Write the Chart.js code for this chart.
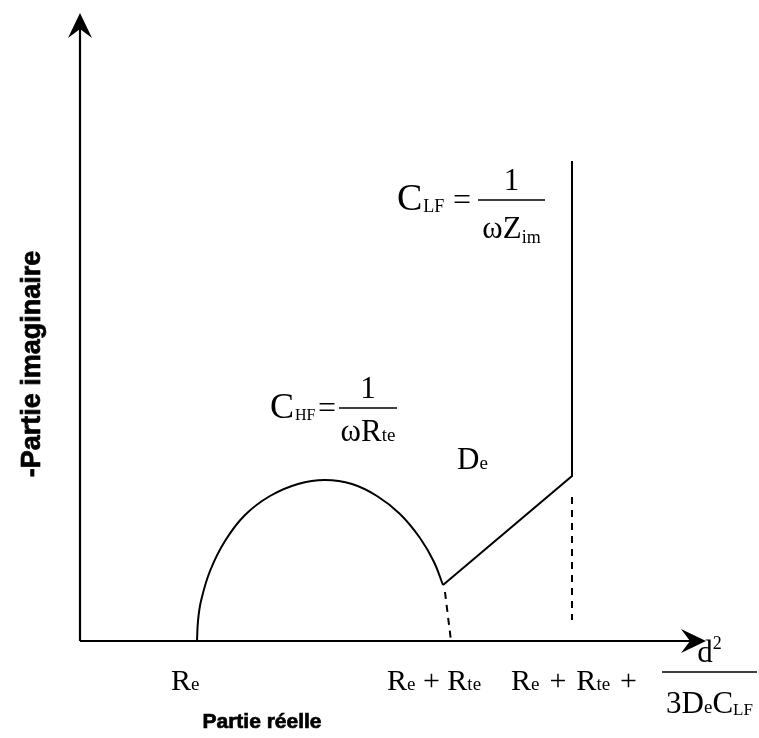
<!DOCTYPE html>
<html>
<head>
<meta charset="utf-8">
<script src="https://cdn.jsdelivr.net/npm/chart.js@4.4.1/dist/chart.umd.min.js"></script>
<style>
  html, body { margin: 0; padding: 0; background: #fff; }
  #wrap { width: 759px; height: 738px; }
</style>
</head>
<body>
<div id="wrap"><canvas id="nyquist"></canvas></div>
<script>
/* ---------- DATA (arbitrary impedance units) ---------- */
// charge-transfer semicircle (high frequency)
const arcRe = [117, 118, 121, 130, 145, 165, 190, 218, 245, 272, 297, 320, 340, 354, 363];
const arcIm = [0, 20, 40, 70, 100, 126, 145, 157, 161, 157, 145, 127, 103, 79, 56];
// diffusion line then capacitive vertical (low frequency)
const lfRe = [363, 492, 492];
const lfIm = [56, 165, 480];
// dashed extrapolations down to the real axis
const dashArcRe = [365, 371];
const dashArcIm = [49, 0];
const dashLfRe = [492, 492];
const dashLfIm = [144, 21];

const xMax = 626;
const yMax = 628;

const serif = '"Liberation Serif", "Times New Roman", serif';
const sans = '"Liberation Sans", Arial, sans-serif';

function toPoints(xs, ys) {
  return xs.map((x, i) => ({ x: x, y: ys[i] }));
}

/* ---------- text helpers ---------- */
function runWidth(ctx, parts) {
  let w = 0;
  parts.forEach(p => {
    ctx.font = p[1] + "px " + serif;
    w += ctx.measureText(p[0]).width;
  });
  return w;
}

function runText(ctx, x, y, parts) {
  parts.forEach(p => {
    ctx.font = p[1] + "px " + serif;
    ctx.fillText(p[0], x, y + (p[2] || 0));
    x += ctx.measureText(p[0]).width;
  });
  return x;
}

function fraction(ctx, x0, x1, yBar, num, den, numBase, denBase) {
  ctx.fillRect(x0, yBar - 0.75, x1 - x0, 1.5);
  const c = (x0 + x1) / 2;
  runText(ctx, c - runWidth(ctx, num) / 2, yBar - numBase, num);
  runText(ctx, c - runWidth(ctx, den) / 2, yBar + denBase, den);
}

// heavy bold title (fill + thin stroke)
function heavyText(ctx, txt, x, y) {
  ctx.fillText(txt, x, y);
  ctx.strokeText(txt, x, y);
}

/* ---------- axes + labels plugin ---------- */
const schemePlugin = {
  id: "scheme",
  beforeDatasetsDraw(chart) {
    const ctx = chart.ctx;
    const a = chart.chartArea;
    ctx.save();
    ctx.strokeStyle = "#000";
    ctx.fillStyle = "#000";
    ctx.lineWidth = 2.2;
    ctx.beginPath();
    ctx.moveTo(a.left, a.bottom);
    ctx.lineTo(a.left, a.top + 10);
    ctx.moveTo(a.left, a.bottom);
    ctx.lineTo(a.right - 10, a.bottom);
    ctx.stroke();
    // arrow heads
    ctx.beginPath();
    ctx.moveTo(a.left, a.top);
    ctx.lineTo(a.left - 12, a.top + 25);
    ctx.lineTo(a.left, a.top + 16);
    ctx.lineTo(a.left + 12, a.top + 25);
    ctx.closePath();
    ctx.fill();
    ctx.beginPath();
    ctx.moveTo(a.right, a.bottom);
    ctx.lineTo(a.right - 25, a.bottom - 12);
    ctx.lineTo(a.right - 16, a.bottom);
    ctx.lineTo(a.right - 25, a.bottom + 12);
    ctx.closePath();
    ctx.fill();
    ctx.restore();
  },
  afterDraw(chart) {
    const ctx = chart.ctx;
    ctx.save();
    ctx.fillStyle = "#000";
    ctx.strokeStyle = "#000";
    ctx.textBaseline = "alphabetic";
    ctx.textAlign = "left";

    // C_LF = 1 / (omega Z_im)
    let x = runText(ctx, 397, 210, [["C", 38]]);
    runText(ctx, x + 1, 212, [["LF", 18]]);
    runText(ctx, 453, 210, [["=", 32]]);
    fraction(ctx, 478, 545, 200, [["1", 31]], [["\u03c9Z", 31], ["im", 18, 5]], 10, 38);

    // C_HF = 1 / (omega R_te)
    x = runText(ctx, 270, 418, [["C", 36]]);
    runText(ctx, x + 1, 420, [["HF", 16]]);
    runText(ctx, 318, 418, [["=", 32]]);
    fraction(ctx, 339, 397, 408, [["1", 31]], [["\u03c9R", 31], ["te", 19]], 10, 33);

    // D_e
    runText(ctx, 457, 469, [["D", 31], ["e", 19]]);

    // real axis labels
    const sp = "\u2004";
    runText(ctx, 171, 690, [["R", 30], ["e", 19]]);
    runText(ctx, 387, 690, [["R", 30], ["e", 19], [" + R", 30], ["te", 19]]);
    runText(ctx, 511, 690, [["R", 30], ["e", 19], [sp + "+" + sp + "R", 30], ["te", 19], [sp + "+", 30]]);
    fraction(ctx, 662, 757, 672, [["d", 31], ["2", 18, -13]], [["3D", 31], ["e", 19], ["C", 31], ["LF", 17, 2]], 10, 41);

    // axis titles
    ctx.lineWidth = 0.7;
    ctx.font = "bold 21px " + sans;
    ctx.textAlign = "center";
    heavyText(ctx, "Partie r\u00e9elle", 262, 728);
    ctx.font = "bold 27px " + sans;
    ctx.translate(33, 364);
    ctx.rotate(-Math.PI / 2);
    ctx.textBaseline = "middle";
    heavyText(ctx, "-Partie imaginaire", 0, 0);
    ctx.restore();
  }
};

/* ---------- CHART ---------- */
const solid = { borderColor: "#000", borderWidth: 2, pointRadius: 0, showLine: true, fill: false };
const dashed = Object.assign({}, solid, { borderDash: [7, 6], tension: 0 });

new Chart(document.getElementById("nyquist"), {
  type: "scatter",
  data: {
    datasets: [
      Object.assign({ label: "HF", data: toPoints(arcRe, arcIm), tension: 0.4 }, solid),
      Object.assign({ label: "LF", data: toPoints(lfRe, lfIm), tension: 0 }, solid),
      Object.assign({ label: "dash1", data: toPoints(dashArcRe, dashArcIm) }, dashed),
      Object.assign({ label: "dash2", data: toPoints(dashLfRe, dashLfIm) }, dashed)
    ]
  },
  options: {
    responsive: true,
    maintainAspectRatio: false,
    animation: false,
    layout: { padding: { left: 80, right: 53, top: 13, bottom: 97 } },
    plugins: { legend: { display: false }, tooltip: { enabled: false } },
    scales: {
      x: { type: "linear", min: 0, max: xMax, display: false },
      y: { type: "linear", min: 0, max: yMax, display: false }
    }
  },
  plugins: [schemePlugin]
});
</script>
</body>
</html>
